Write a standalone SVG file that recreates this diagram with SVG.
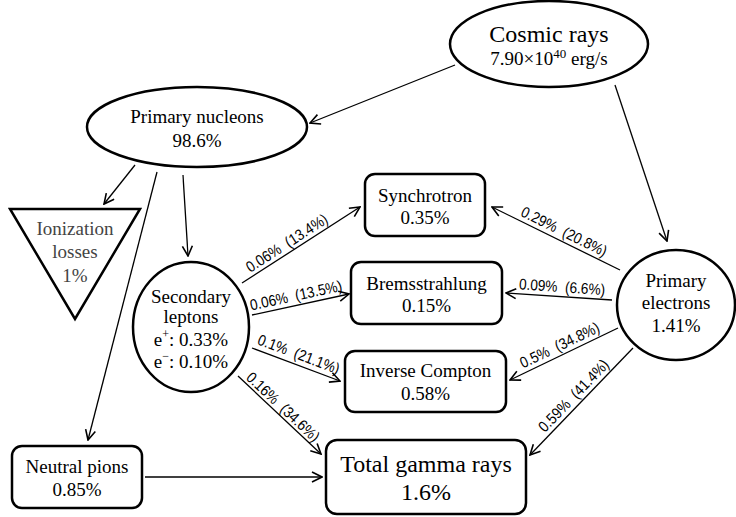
<svg xmlns="http://www.w3.org/2000/svg" width="736" height="517" viewBox="0 0 736 517">
<style>
.node{fill:#fff;stroke:#000;stroke-width:2.5}
.t{font-family:'Liberation Serif','Times New Roman',serif;font-size:19px;fill:#000;text-anchor:middle}
.big{font-size:24px}
.gray{fill:#444}
.e{fill:none;stroke:#000;stroke-width:1.3;marker-end:url(#arr)}
.lbl{font-family:'Liberation Sans',Arial,sans-serif;font-size:15.5px;fill:#000;text-anchor:middle}
</style>
<defs>
<marker id="arr" viewBox="0 0 12 12" refX="11" refY="6" markerWidth="12" markerHeight="12" markerUnits="userSpaceOnUse" orient="auto">
<path d="M1,1 L11,6 L1,11" fill="none" stroke="#000" stroke-width="1.6"/>
</marker>
</defs>
<rect width="736" height="517" fill="#fff"/>

<g id="connectors">
<line class="e" x1="455" y1="65" x2="310" y2="123"/>
<line class="e" x1="615" y1="85" x2="667" y2="241"/>
<line class="e" x1="135" y1="165" x2="104" y2="204"/>
<line class="e" x1="157" y1="172" x2="88" y2="440"/>
<line class="e" x1="183" y1="175" x2="188" y2="256"/>
<line class="e" x1="145" y1="477" x2="322" y2="477"/>
<line class="e" x1="242" y1="283" x2="360" y2="207"/>
<line class="e" x1="252" y1="315" x2="349" y2="294"/>
<line class="e" x1="252" y1="348" x2="340" y2="381"/>
<line class="e" x1="238" y1="376" x2="321" y2="454"/>
<line class="e" x1="620" y1="270" x2="492" y2="207"/>
<line class="e" x1="612" y1="300" x2="506" y2="293"/>
<line class="e" x1="618" y1="328" x2="510" y2="380"/>
<line class="e" x1="633" y1="348" x2="530" y2="455"/>
<text class="lbl" transform="translate(289.7,247.5) rotate(-32.8) scale(0.88,1)">0.06%&#160; (13.4%)</text>
<text class="lbl" transform="translate(297,300.6) rotate(-12.2) scale(0.88,1)">0.06%&#160; (13.5%)</text>
<text class="lbl" transform="translate(296.9,359.1) rotate(20.6) scale(0.88,1)">0.1%&#160; (21.1%)</text>
<text class="lbl" transform="translate(279.5,410.8) rotate(43.2) scale(0.88,1)">0.16%&#160; (34.6%)</text>
<text class="lbl" transform="translate(561.8,236.3) rotate(26.2) scale(0.88,1)">0.29%&#160; (20.8%)</text>
<text class="lbl" transform="translate(561.7,292.2) rotate(3.8) scale(0.88,1)">0.09%&#160; (6.6%)</text>
<text class="lbl" transform="translate(561.9,349.9) rotate(-25.7) scale(0.88,1)">0.5%&#160; (34.8%)</text>
<text class="lbl" transform="translate(577.4,399.3) rotate(-46.1) scale(0.88,1)">0.59%&#160; (41.4%)</text>
</g>

<g id="cosmic-rays">
<ellipse class="node" cx="549" cy="44" rx="99" ry="43"/>
<text class="t big" x="549" y="42">Cosmic rays</text>
<text class="t" x="549" y="65">7.90×10<tspan font-size="13" dy="-7">40</tspan><tspan dy="7"> erg/s</tspan></text>
</g>

<g id="primary-nucleons">
<ellipse class="node" cx="197" cy="127" rx="110" ry="40"/>
<text class="t" x="197" y="123">Primary nucleons</text>
<text class="t" x="197" y="147">98.6%</text>
</g>

<g id="ionization-losses">
<polygon class="node" points="10,209 140,209 75,319"/>
<text class="t gray" x="75" y="235">Ionization</text>
<text class="t gray" x="75" y="258">losses</text>
<text class="t gray" x="75" y="282">1%</text>
</g>

<g id="secondary-leptons">
<ellipse class="node" cx="191" cy="327" rx="58" ry="65"/>
<text class="t" x="191" y="303">Secondary</text>
<text class="t" x="191" y="323">leptons</text>
<text class="t" x="191" y="346">e<tspan font-size="12" dy="-8">+</tspan><tspan dy="8">: 0.33%</tspan></text>
<text class="t" x="191" y="368">e<tspan font-size="12" dy="-8">−</tspan><tspan dy="8">: 0.10%</tspan></text>
</g>

<g id="primary-electrons">
<ellipse class="node" cx="676" cy="305" rx="59" ry="55"/>
<text class="t" x="676" y="287">Primary</text>
<text class="t" x="676" y="309">electrons</text>
<text class="t" x="676" y="332">1.41%</text>
</g>

<g id="synchrotron">
<rect class="node" x="365" y="174" width="120" height="62" rx="10"/>
<text class="t" x="425" y="202">Synchrotron</text>
<text class="t" x="425" y="224">0.35%</text>
</g>

<g id="bremsstrahlung">
<rect class="node" x="351" y="262" width="151" height="62" rx="10"/>
<text class="t" x="426.5" y="290">Bremsstrahlung</text>
<text class="t" x="426.5" y="312">0.15%</text>
</g>

<g id="inverse-compton">
<rect class="node" x="345" y="351" width="161" height="61" rx="10"/>
<text class="t" x="425.5" y="377">Inverse Compton</text>
<text class="t" x="425.5" y="400">0.58%</text>
</g>

<g id="neutral-pions">
<rect class="node" x="12" y="446" width="130" height="62" rx="10"/>
<text class="t" x="77" y="473">Neutral pions</text>
<text class="t" x="77" y="496">0.85%</text>
</g>

<g id="total-gamma-rays">
<rect class="node" x="326" y="440" width="200" height="74" rx="11"/>
<text class="t big" x="426" y="472">Total gamma rays</text>
<text class="t big" x="426" y="500">1.6%</text>
</g>
</svg>
